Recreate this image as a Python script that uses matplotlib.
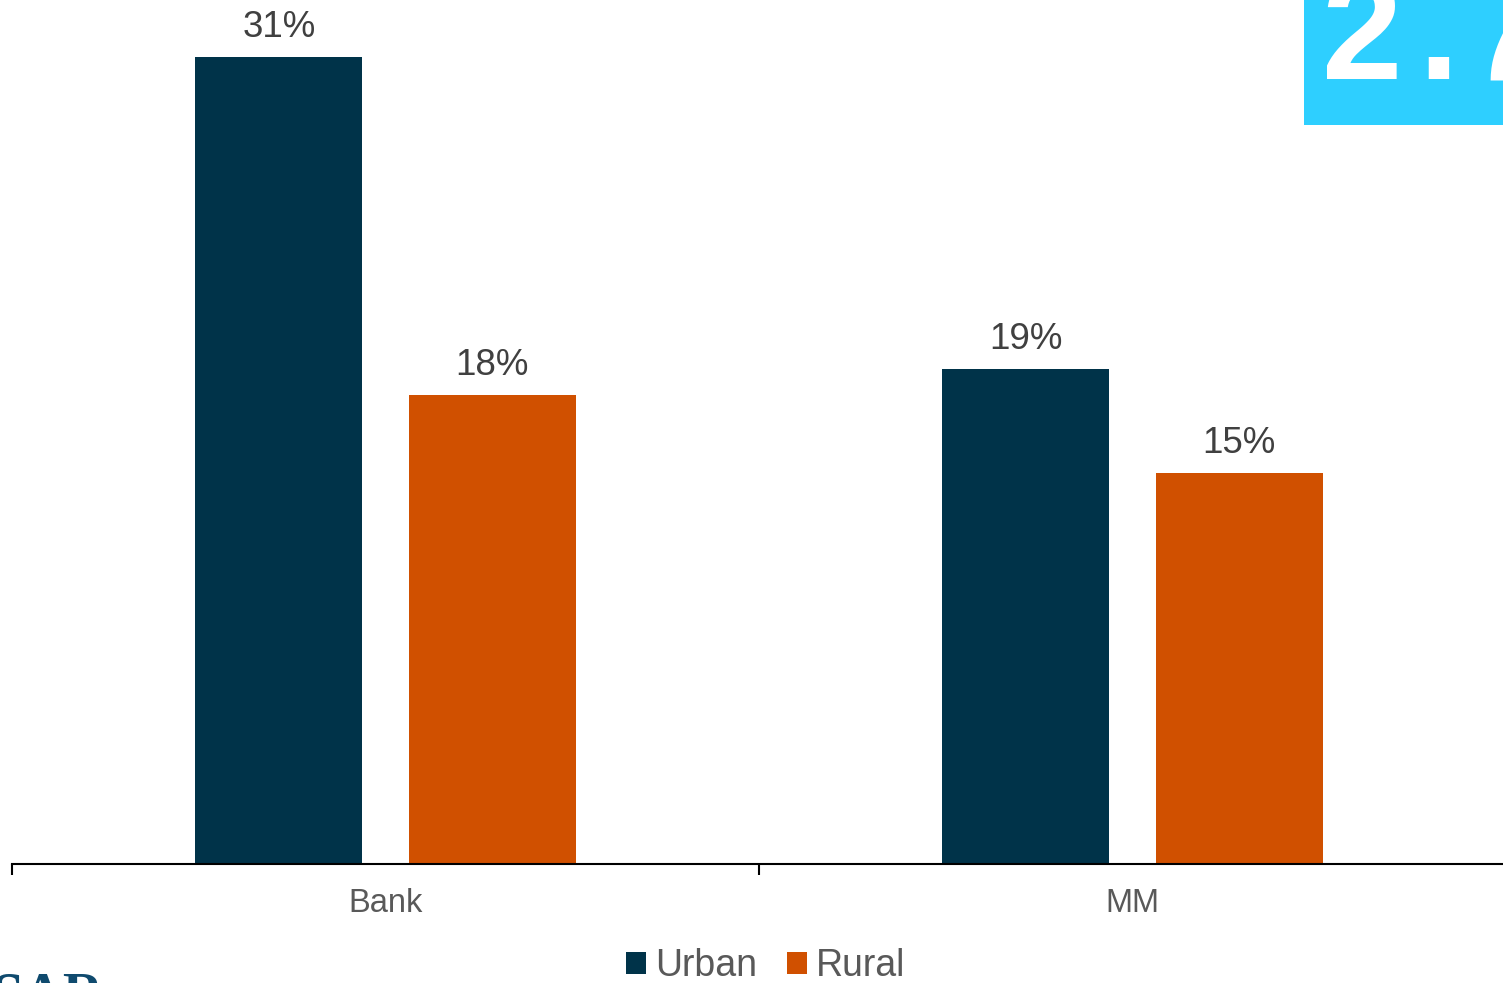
import matplotlib
matplotlib.use("Agg")
import matplotlib.pyplot as plt
from matplotlib.patches import Patch, Rectangle

plt.rcParams["font.family"] = ["Liberation Sans", "DejaVu Sans"]

# --- data ---------------------------------------------------------------
categories = ["Bank", "MM"]
series = ["Urban", "Rural"]
urban = [31, 19]
rural = [18, 15]

URBAN_C = "#003349"
RURAL_C = "#D05000"
LABEL_C = "#404040"
TICK_C = "#595959"

W, H = 1503, 983
fig = plt.figure(figsize=(W / 100, H / 100), dpi=100, facecolor="white")

# axes run a bit past the right edge, baseline sits near the bottom
ax = fig.add_axes([12 / W, (H - 864) / H, (1506 - 12) / W, 864 / H])
ax.set_xlim(-0.5, 1.5)
ax.set_ylim(0, 33.18)

bw = 0.2236
off = 0.1426
xs = list(range(len(categories)))
for vals, sign, col in ((urban, -1, URBAN_C), (rural, 1, RURAL_C)):
    pos = [x + sign * off for x in xs]
    ax.bar(pos, vals, width=bw, color=col, zorder=2)
    for p, v in zip(pos, vals):
        ax.annotate(f"{v}%", (p, v), xytext=(0, 14.5), textcoords="offset points",
                    ha="center", va="baseline", fontsize=26.5, color=LABEL_C)

for s in ("top", "left", "right"):
    ax.spines[s].set_visible(False)
ax.spines["bottom"].set_linewidth(1.5)
ax.spines["bottom"].set_color("black")
ax.set_yticks([])

# boundary ticks between groups, labels centred under each group
ax.set_xticks([-0.5, 0.5, 1.5])
ax.set_xticklabels([])
ax.tick_params(axis="x", which="major", length=8, width=1.5, direction="out")
ax.set_xticks(xs, minor=True)
ax.set_xticklabels(categories, minor=True)
ax.tick_params(axis="x", which="minor", length=0, pad=17, labelsize=23.5, labelcolor=TICK_C)

handles = [Patch(facecolor=URBAN_C, label=series[0]), Patch(facecolor=RURAL_C, label=series[1])]
fig.legend(handles=handles, loc="center", bbox_to_anchor=(766 / W, 1 - 966 / H),
           ncol=2, frameon=False, fontsize=27, labelcolor=TICK_C,
           handlelength=0.52, handleheight=0.52, handletextpad=0.25, columnspacing=0.8,
           borderpad=0, borderaxespad=0)

# slide fragments: cyan badge at top right, heading text at bottom left
fig.patches.append(Rectangle((1304 / W, 1 - 125 / H), 220 / W, 125 / H,
                             transform=fig.transFigure, facecolor="#2ECFFF",
                             edgecolor="none", zorder=5))
for ch, px in (("2", 1322), (".", 1418), ("7", 1470)):
    fig.text(px / W, 1 - 79 / H, ch, fontsize=104, fontweight="bold", color="white",
             ha="left", va="baseline", zorder=6)
fig.text(-8 / W, 1 - 1012 / H, "SAR", fontsize=40, fontweight="bold", color="#0F4A6E",
         family="Liberation Serif", ha="left", va="baseline")

fig.savefig("out.png", dpi=100, facecolor="white")
